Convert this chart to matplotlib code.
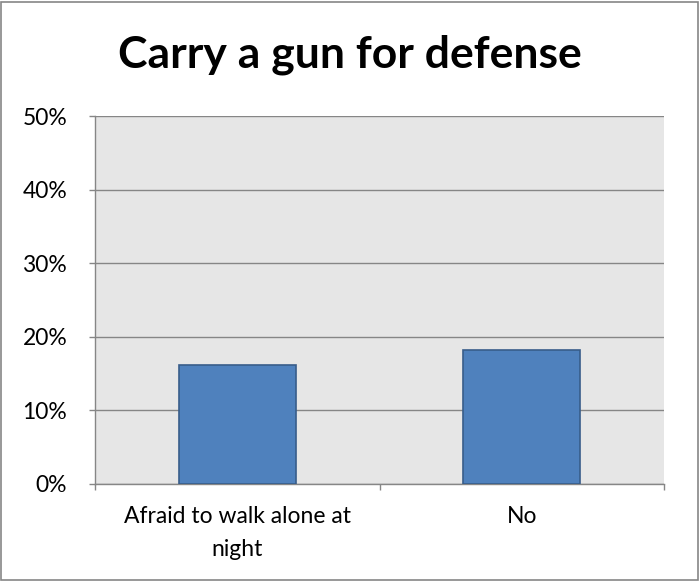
import matplotlib
matplotlib.use('Agg')
import matplotlib.pyplot as plt
from matplotlib.patches import Rectangle
from matplotlib.ticker import FuncFormatter, FixedLocator, NullFormatter

categories = ['Afraid to walk alone at\nnight', 'No']
values = [16.2, 18.2]
y_ticks = [0, 10, 20, 30, 40, 50]

plt.rcParams['font.family'] = ['Lato', 'DejaVu Sans']

def main():
    fig = plt.figure(figsize=(7.0, 5.81), dpi=100)
    fig.patches.append(Rectangle((0.002, 0.002), 0.995, 0.995, transform=fig.transFigure,
                                 fill=False, edgecolor='#868686', linewidth=1.2))
    ax = fig.add_axes([0.1357, 0.167, 0.8129, 0.6333])
    ax.set_facecolor('#E6E6E6')

    x = list(range(len(categories)))
    ax.bar(x, values, width=0.41, color='#4F81BD', edgecolor='#385D8A', linewidth=1.2, zorder=3)

    ax.set_xlim(-0.5, len(categories) - 0.5)
    ax.set_ylim(0, 50)
    ax.set_yticks(y_ticks)
    ax.yaxis.set_major_formatter(FuncFormatter(lambda v, p: f'{v:.0f}%'))
    ax.grid(axis='y', color='#868686', linewidth=1.0, zorder=1)

    # category labels centered, tick marks at the boundaries
    ax.xaxis.set_major_locator(FixedLocator([-0.5, 0.5, 1.5]))
    ax.xaxis.set_major_formatter(NullFormatter())
    ax.xaxis.set_minor_locator(FixedLocator(x))
    ax.set_xticklabels(categories, minor=True, linespacing=1.7)
    ax.tick_params(axis='x', which='major', length=4, color='#868686', width=1.0, direction='out')
    ax.tick_params(axis='x', which='minor', length=0, pad=16, labelsize=16.5)
    ax.tick_params(axis='y', length=4, color='#868686', width=1.0, labelsize=16.5, pad=16)

    for side in ['top', 'right']:
        ax.spines[side].set_visible(False)
    for side in ['left', 'bottom']:
        ax.spines[side].set_color('#868686')
        ax.spines[side].set_linewidth(1.0)

    fig.text(0.5, 0.905, 'Carry a gun for defense', ha='center', va='center',
             fontsize=32, fontweight='bold')

    fig.savefig('out.png', dpi=100)

if __name__ == '__main__':
    main()
